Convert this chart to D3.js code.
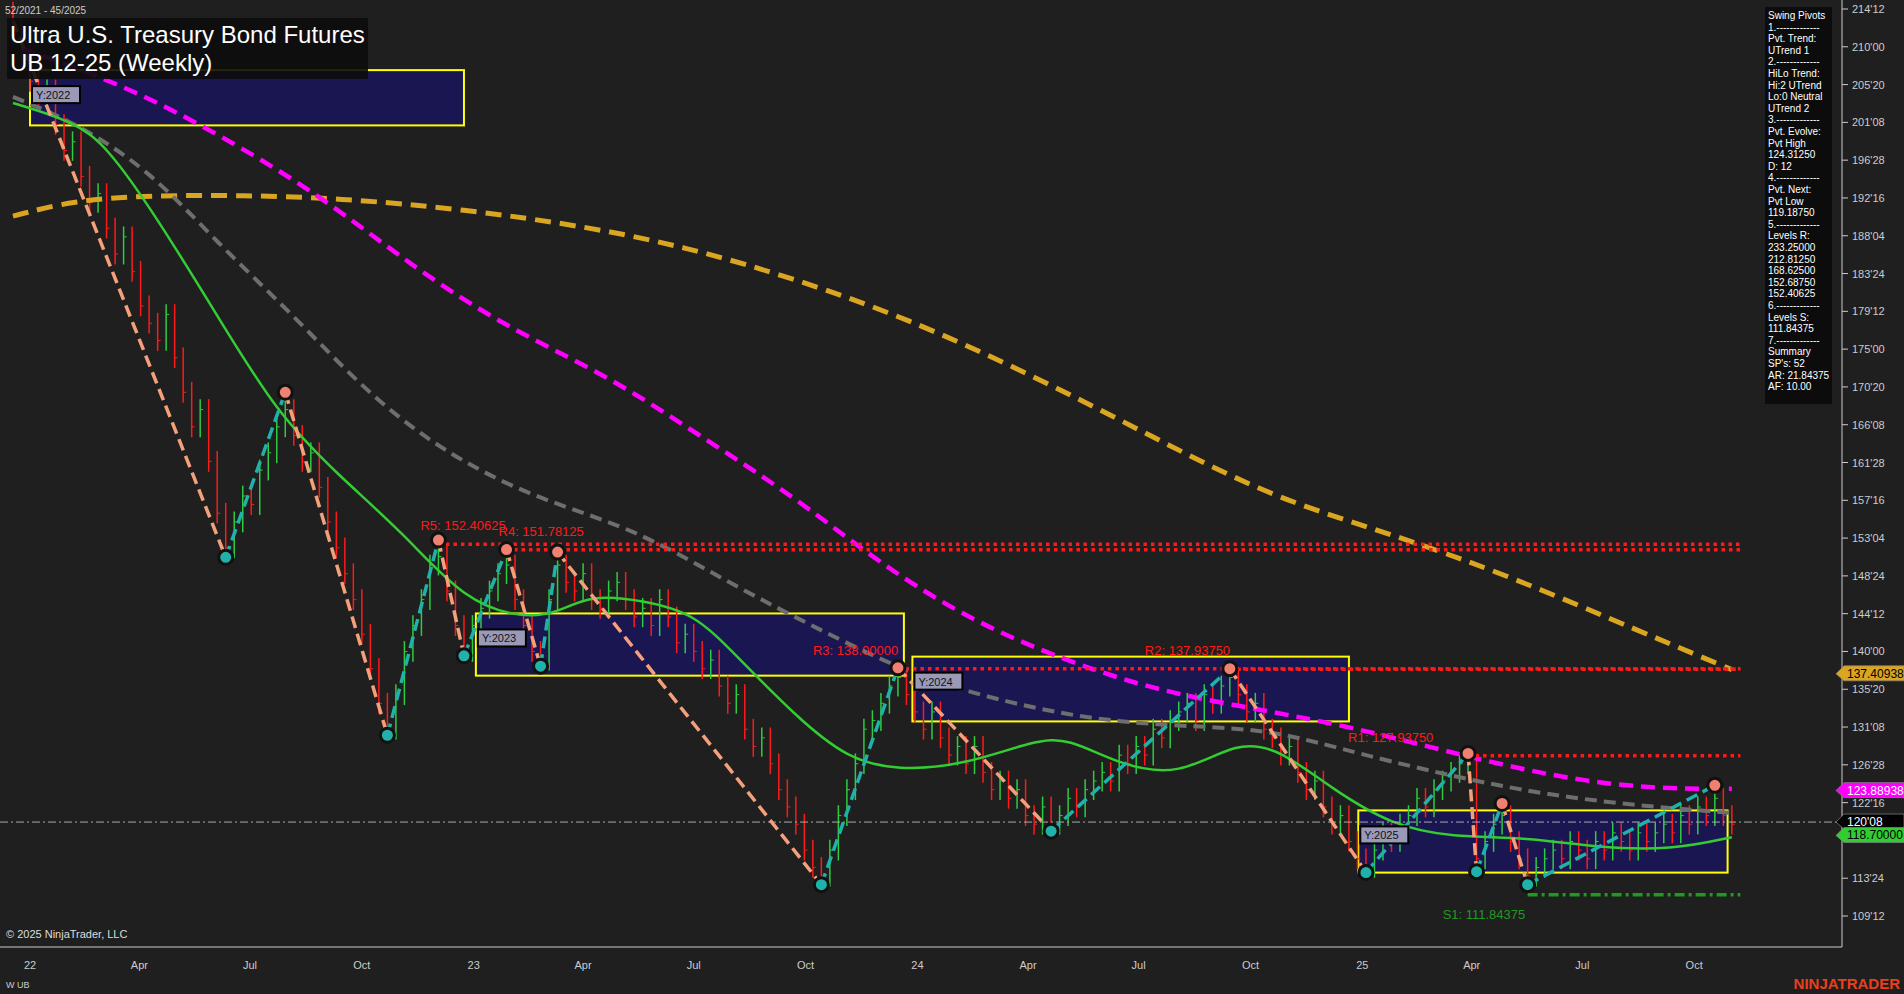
<!DOCTYPE html>
<html>
<head>
<meta charset="utf-8">
<script src="https://cdn.jsdelivr.net/npm/d3@7"></script>
<style>
  body { margin: 0; background: #1f1f1f; overflow: hidden; }
  text { font-family: Arial, "Liberation Sans", sans-serif; }
</style>
</head>
<body>
<div id="chart"></div>
<script>
// datos: semana = semanas desde 1-ene-2022
const closeStart = -2
const closes = [212,209,206,204,205,201,198,199,195,192,193,189,186,188,184,180,178,176,179,174,170,166,168,162,156,152,
  155,158,157,161,163,166,168,
  165,162,163,159,155,152,149,146,142,138,134,131,
  135,140,143,146,150,151,
  147,143,140,
  143,145,147,149,150,
  146,143,140,139,
  146,150,
  148,147,149,146,145,147,148,146,144,145,143,146,144,141,142,140,138,139,136,134,135,131,129,130,127,124,122,120,117,115,114,
  117,121,124,127,131,132,134,136,137,
  135,133,131,133,130,128,129,127,129,126,124,125,123,124,121,120,122,120,
  121,123,122,124,125,126,125,128,127,129,128,131,130,132,133,134,132,135,134,136,137,
  135,133,134,131,130,128,129,126,124,125,122,120,121,118,116,115,
  117,119,118,120,121,123,122,124,125,126,127,127,
  116,
  118,120,121,
  118,116,114,
  115,116,117,116,118,117,116,118,117,119,118,117,119,118,119,120,119,121,120,122,121,123,
  121,120]

const pivotWeeks  = [-2,23,30,42,48,51,56,60,62,93,102,120,141,157,169,170,173,176,198]
const pivotPrices = [213,150.9,170,130.3,152.9,139.5,151.8,138.3,151.5,113,138.1,119.2,138,114.4,128.2,114.5,122.4,113,124.5]
const pivotTypes  = ["H","L","H","L","H","L","H","L","H","L","H","L","H","L","H","L","H","L","H"]

const orangeWeeks  = [-2,5,14,25,36,51,66,78,90,103,118,132,146,160,174,189,200]
const orangeValues = [190.4,192.2,192.8,192.8,192.5,191.2,189.1,186.6,183.1,178.6,171.9,164.8,157.8,153.6,148.7,142.4,137.9]
const magentaWeeks  = [-1,11,22,34,45,56,68,79,90,99,110,122,133,145,156,167,179,190,200]
const magentaValues = [209.8,205.6,200.0,192.9,184.5,177.5,171.9,164.8,157.8,150.8,143.8,138.8,135.3,133.2,131.1,128.3,125.5,124.1,124.1]
const grayWeeks  = [-2,5,14,22,31,39,48,59,71,82,93,102,110,122,133,145,153,167,182,200]
const grayValues = [204.2,201.4,195.8,187.3,178.9,170.5,163.4,157.8,154.3,148.0,142.4,138.1,135.3,132.5,131.4,131.1,129.0,125.5,122.7,121.3]
const greenWeeks  = [-2,5,9,15,22,29,36,44,51,58,62,66,72,78,83,90,96,102,110,118,122,128,135,142,147,153,160,167,176,184,193,200]
const greenValues = [203.5,201.4,198.6,190.1,178.9,167.6,160.6,153.6,145.9,143.8,144.5,146.6,145.9,144.5,139.5,132.5,127.6,126.2,126.9,129.7,130.0,126.9,125.5,129.7,128.6,124.1,119.9,118.5,118.5,117.3,117.0,118.5]

const yearBoxes = [
  {label: "Y:2022", w0: 0, w1: 51, top: 207.3, bottom: 200.9},
  {label: "Y:2023", w0: 52.4, w1: 102.7, top: 144.4, bottom: 137.2},
  {label: "Y:2024", w0: 103.7, w1: 155, top: 139.4, bottom: 131.9},
  {label: "Y:2025", w0: 156.1, w1: 199.5, top: 121.6, bottom: 114.4}
]
const levelNames  = ["R5","R4","R3","R2","R1","S1"]
const levelValues = [152.40625,151.78125,138.0,137.9375,127.9375,111.84375]
const levelStart  = [48,56,102,141,169,176]
const levelLabelText = ["R5: 152.40625","R4: 151.78125","R3: 138.00000","R2: 137.93750","R1: 127.93750","S1: 111.84375"]

const yTicks = ["214'12","210'00","205'20","201'08","196'28","192'16","188'04","183'24","179'12","175'00","170'20","166'08","161'28","157'16","153'04","148'24","144'12","140'00","135'20","131'08","126'28","122'16","113'24","109'12"]
const legendLines = ["Swing Pivots","1.-------------","Pvt. Trend:","UTrend 1","2.-------------","HiLo Trend:","Hi:2 UTrend","Lo:0 Neutral","UTrend 2","3.-------------","Pvt. Evolve:","Pvt High","124.31250","D: 12","4.-------------","Pvt. Next:","Pvt Low","119.18750","5.-------------","Levels R:","233.25000","212.81250","168.62500","152.68750","152.40625","6.-------------","Levels S:","111.84375","7.-------------","Summary","SP's: 52","AR: 21.84375","AF: 10.00"]
const tags = [
  {price: 137.40938, text: "137.40938", fill: "#daa520", color: "#000"},
  {price: 123.88938, text: "123.88938", fill: "#ff00ff", color: "#fff"},
  {price: 120.25, text: "120'08", fill: "#000", color: "#fff"},
  {price: 118.7, text: "118.70000", fill: "#32cd32", color: "#000"}
]
const lastPrice = 120.25

const width = 1904
const height = 994
const plotRight = 1842
const plotBottom = 947
// desplazamiento de las etiquetas de niveles (px)
const labelDx = [-18, -8, -85, -85, -120, -85]
const labelDy = [-14, -14, -14, -14, -14, 24]

const svg = d3.select("#chart").append("svg")
  .attr("width", width).attr("height", height)
  .style("background", "#1f1f1f")

const base = new Date(2022, 0, 1)
const wd = w => new Date(base.getTime() + w * 7 * 86400000)

const x = d3.scaleTime().domain([base, new Date(2026, 0, 1)]).range([30, 1806])
const y = d3.scaleLinear().domain([214.375, 109.375]).range([9, 916])

const plot = svg.append("g")
svg.append("defs").append("clipPath").attr("id", "clip")
  .append("rect").attr("width", plotRight).attr("height", plotBottom)
plot.attr("clip-path", "url(#clip)")

// cajas anuales
yearBoxes.forEach(b => {
  plot.append("rect")
    .attr("x", x(wd(b.w0))).attr("y", y(b.top))
    .attr("width", x(wd(b.w1)) - x(wd(b.w0))).attr("height", y(b.bottom) - y(b.top))
    .attr("fill", "#1a1652").attr("stroke", "#ffff00").attr("stroke-width", 2)
})

// barras
closes.forEach((c, i) => {
  const o = i === 0 ? c + 2 : closes[i - 1]
  const hi = Math.max(o, c) + 1.2, lo = Math.min(o, c) - 1.2
  const col = c >= o ? "#2ecc40" : "#ff1a1a"
  const xx = x(wd(closeStart + i))
  plot.append("line").attr("x1", xx).attr("x2", xx).attr("y1", y(hi)).attr("y2", y(lo))
    .attr("stroke", col).attr("stroke-width", 1.5)
  plot.append("line").attr("x1", xx).attr("x2", xx + 3).attr("y1", y(c)).attr("y2", y(c))
    .attr("stroke", col).attr("stroke-width", 1)
})

// medias
const line = d3.line().curve(d3.curveBasis).x(d => x(wd(d[0]))).y(d => y(d[1]))
const ma = (ws, vs, col, w, dash) => plot.append("path")
  .attr("d", line(ws.map((v, i) => [v, vs[i]])))
  .attr("fill", "none").attr("stroke", col).attr("stroke-width", w)
  .attr("stroke-dasharray", dash)
ma(orangeWeeks, orangeValues, "#daa520", 5, "16,9")
ma(magentaWeeks, magentaValues, "#ff00ff", 4.5, "14,8")
ma(grayWeeks, grayValues, "#6e6e6e", 4, "12,7")
ma(greenWeeks, greenValues, "#33cc33", 2.5, null)

// niveles
levelValues.forEach((v, i) => {
  const isS = levelNames[i][0] === "S"
  plot.append("line")
    .attr("x1", x(wd(levelStart[i]))).attr("x2", x(wd(201)))
    .attr("y1", y(v)).attr("y2", y(v))
    .attr("stroke", isS ? "#1f9a1f" : "#ff1a1a").attr("stroke-width", 3.5)
    .attr("stroke-dasharray", isS ? "10,4,3,4" : "3.5,4")
  plot.append("text")
    .attr("x", x(wd(levelStart[i])) + labelDx[i])
    .attr("y", y(v) + labelDy[i])
    .attr("fill", isS ? "#1f9a1f" : "#ff1a1a").attr("font-size", 13)
    .text(levelLabelText[i])
})

// último precio
plot.append("line").attr("x1", 0).attr("x2", plotRight).attr("y1", y(lastPrice)).attr("y2", y(lastPrice))
  .attr("stroke", "#aaa").attr("stroke-width", 1).attr("stroke-dasharray", "8,3,2,3")

// zigzag
for (let i = 1; i < pivotWeeks.length; i++) {
  const up = pivotTypes[i] === "H"
  plot.append("line")
    .attr("x1", x(wd(pivotWeeks[i - 1]))).attr("y1", y(pivotPrices[i - 1]))
    .attr("x2", x(wd(pivotWeeks[i]))).attr("y2", y(pivotPrices[i]))
    .attr("stroke", up ? "#20b2aa" : "#f4a07a").attr("stroke-width", 3.5)
    .attr("stroke-dasharray", "12,6")
}
pivotWeeks.forEach((w, i) => {
  if (i === 0) return
  const hi = pivotTypes[i] === "H"
  plot.append("circle").attr("cx", x(wd(w))).attr("cy", y(pivotPrices[i])).attr("r", 7)
    .attr("fill", hi ? "#f08070" : "#20b2aa").attr("stroke", "#111").attr("stroke-width", 3)
})

// etiquetas de cajas
yearBoxes.forEach(b => {
  const g = plot.append("g").attr("transform", `translate(${x(wd(b.w0)) + 2},${y(b.top) + 16})`)
  g.append("rect").attr("width", 48).attr("height", 17).attr("fill", "#9a9ab8").attr("stroke", "#000").attr("stroke-width", 2)
  g.append("text").attr("x", 4).attr("y", 13).attr("font-family", "DejaVu Sans Mono, monospace")
    .attr("font-size", 11).attr("fill", "#111").text(b.label)
})

// eje Y
svg.append("line").attr("x1", plotRight).attr("x2", plotRight).attr("y1", 0).attr("y2", plotBottom)
  .attr("stroke", "#ccc")
svg.append("line").attr("x1", 0).attr("x2", plotRight).attr("y1", plotBottom).attr("y2", plotBottom)
  .attr("stroke", "#ccc")
const tickVal = t => { const [a, b] = t.split("'"); return +a + (+b) / 32 }
yTicks.forEach(t => {
  const yy = y(tickVal(t))
  svg.append("line").attr("x1", plotRight).attr("x2", plotRight + 6).attr("y1", yy).attr("y2", yy).attr("stroke", "#ccc")
  svg.append("text").attr("x", plotRight + 10).attr("y", yy + 4).attr("font-size", 11).attr("fill", "#ccc").text(t)
})
tags.forEach(t => {
  const yy = y(t.price)
  svg.append("path").attr("d", `M${plotRight - 6},${yy} L${plotRight + 2},${yy - 8} L1904,${yy - 8} L1904,${yy + 7} L${plotRight + 2},${yy + 7} Z`)
    .attr("fill", t.fill).attr("stroke", "#888").attr("stroke-width", 0.7)
  svg.append("text").attr("x", plotRight + 5).attr("y", yy + 4).attr("font-size", 12).attr("fill", t.color).text(t.text)
})

// eje X
const fmt = d => d.getMonth() === 0 ? d3.timeFormat("%y")(d) : d3.timeFormat("%b")(d)
x.ticks(d3.timeMonth.every(3)).filter(d => d <= new Date(2025, 10, 1)).forEach(d => {
  svg.append("text").attr("x", x(d)).attr("y", 969).attr("text-anchor", "middle")
    .attr("font-size", 11).attr("fill", "#ccc").text(fmt(d))
})

// leyenda
svg.append("rect").attr("x", 1765).attr("y", 7).attr("width", 67).attr("height", 397).attr("fill", "#0c0c0c")
legendLines.forEach((l, i) => {
  svg.append("text").attr("x", 1768).attr("y", 19 + i * 11.6).attr("font-size", 10).attr("fill", "#fff").text(l)
})

// título y textos
svg.append("rect").attr("x", 7).attr("y", 18).attr("width", 361).attr("height", 61).attr("fill", "#0c0c0c").attr("opacity", 0.9)
svg.append("text").attr("x", 10).attr("y", 43).attr("font-size", 24).attr("fill", "#fff").text("Ultra U.S. Treasury Bond Futures")
svg.append("text").attr("x", 10).attr("y", 71).attr("font-size", 24).attr("fill", "#fff").text("UB 12-25 (Weekly)")
svg.append("text").attr("x", 5).attr("y", 14).attr("font-size", 10).attr("fill", "#ccc").text("52/2021 - 45/2025")
svg.append("text").attr("x", 6).attr("y", 938).attr("font-size", 11).attr("fill", "#ddd").text("© 2025 NinjaTrader, LLC")
svg.append("text").attr("x", 6).attr("y", 988).attr("font-size", 9).attr("fill", "#ccc").text("W UB")
svg.append("text").attr("x", 1900).attr("y", 989).attr("text-anchor", "end").attr("font-size", 15).attr("font-weight", "bold")
  .attr("fill", "#e8401c").text("NINJATRADER")
</script>
</body>
</html>
